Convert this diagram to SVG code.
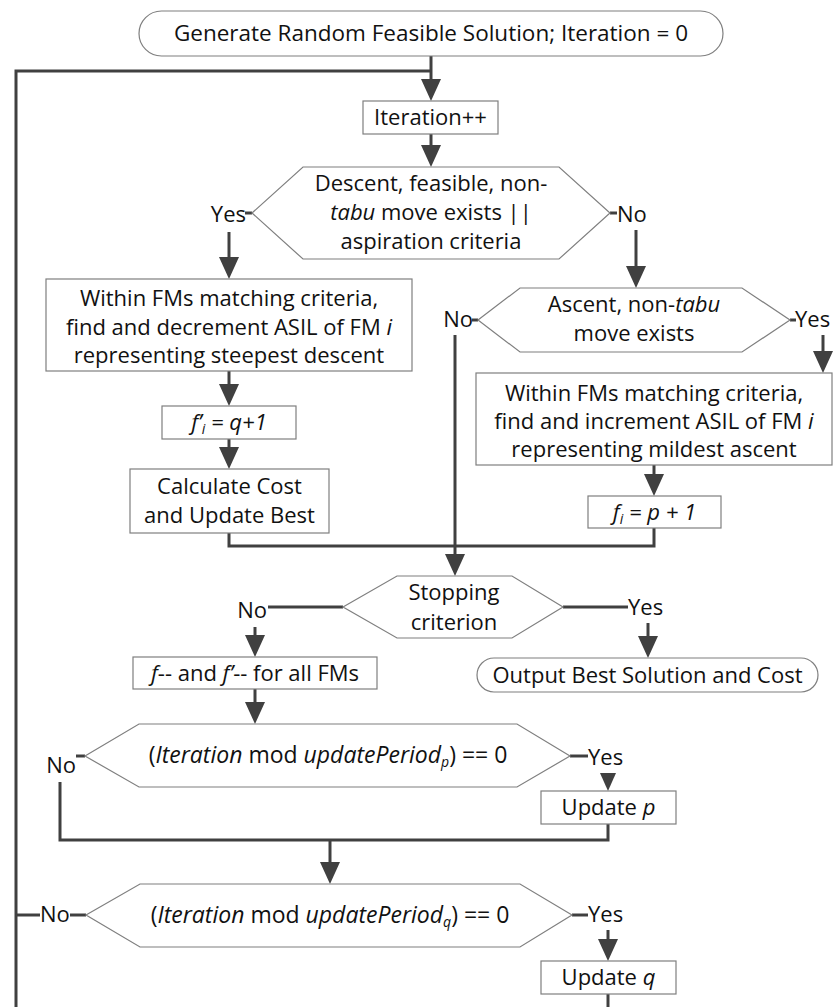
<svg xmlns="http://www.w3.org/2000/svg" width="838" height="1007" viewBox="0 0 838 1007">
  <style>
    text { font-family: "Open Sans", "Liberation Sans", sans-serif; font-size: 22px; fill: #111; text-anchor: middle; }
    text.l { text-anchor: start; }
    text.r { text-anchor: end; }
    text.wide { font-size: 23px; }
    .it { font-style: italic; }
    .shape { fill: #fff; stroke: #7f7f7f; stroke-width: 1.2; }
    .conn { fill: none; stroke: #404040; stroke-width: 3; }
    .arrow { fill: none; stroke: #404040; stroke-width: 3; marker-end: url(#head); }
  </style>
  <defs>
    <!-- arrow tip sits 12px beyond the end of the shaft -->
    <marker id="head" markerUnits="userSpaceOnUse" markerWidth="22" markerHeight="20" refX="10" refY="10" orient="auto">
      <path d="M0,0 L22,10 L0,20 z" fill="#404040"/>
    </marker>
    <!-- small head used without a shaft; tip 10px beyond the anchor -->
    <marker id="headS" markerUnits="userSpaceOnUse" markerWidth="18" markerHeight="16" refX="8" refY="8" orient="auto">
      <path d="M0,0 L18,8 L0,16 z" fill="#404040"/>
    </marker>
  </defs>

  <!-- connectors -->
  <g id="connectors">
    <line class="arrow" x1="431" y1="56" x2="431" y2="89"/>
    <polyline class="conn" points="431,71 16,71 16,1012"/>
    <line class="arrow" x1="431" y1="134" x2="431" y2="155"/>
    <!-- descent branch -->
    <line class="conn" x1="245" y1="213" x2="252" y2="213"/>
    <line class="arrow" x1="229" y1="232" x2="229" y2="267"/>
    <line class="arrow" x1="229" y1="371" x2="229" y2="394"/>
    <line class="arrow" x1="229" y1="439" x2="229" y2="457"/>
    <!-- ascent branch -->
    <line class="conn" x1="610" y1="213" x2="617" y2="213"/>
    <line class="arrow" x1="636" y1="230" x2="636" y2="276"/>
    <line class="conn" x1="472" y1="320" x2="478" y2="320"/>
    <line class="conn" x1="790" y1="320" x2="796" y2="320"/>
    <line class="arrow" x1="823" y1="335" x2="823" y2="361"/>
    <line class="arrow" x1="654" y1="465" x2="654" y2="484"/>
    <!-- merge into stopping test -->
    <polyline class="conn" points="229,533 229,546 654,546 654,528"/>
    <line class="arrow" x1="455" y1="335" x2="455" y2="564"/>
    <!-- stopping outcomes -->
    <line class="conn" x1="268" y1="607" x2="343" y2="607"/>
    <line class="arrow" x1="255" y1="627" x2="255" y2="645"/>
    <line class="conn" x1="563" y1="607" x2="628" y2="607"/>
    <line class="arrow" x1="648" y1="623" x2="648" y2="646"/>
    <line class="arrow" x1="255" y1="689" x2="255" y2="712"/>
    <!-- p update -->
    <line class="conn" x1="76" y1="756" x2="85" y2="756"/>
    <line class="conn" x1="570" y1="756" x2="588" y2="756"/>
    <line style="stroke:none;marker-end:url(#headS)" x1="608" y1="775" x2="608" y2="781"/>
    <polyline class="conn" points="60,782 60,840 608,840 608,824"/>
    <line class="arrow" x1="330" y1="840" x2="330" y2="872"/>
    <!-- q update -->
    <line class="conn" x1="16" y1="915" x2="40" y2="915"/>
    <line class="conn" x1="70" y1="915" x2="86" y2="915"/>
    <line class="conn" x1="572" y1="915" x2="588" y2="915"/>
    <line class="arrow" x1="608" y1="930" x2="608" y2="949"/>
    <line class="conn" x1="608" y1="994" x2="608" y2="1012"/>
  </g>

  <g id="start">
    <rect class="shape" x="139" y="11" width="584" height="45" rx="22.5"/>
    <text x="431" y="41" style="font-size:22.5px">Generate Random Feasible Solution; Iteration = 0</text>
  </g>

  <g id="iter">
    <rect class="shape" x="363" y="101" width="135" height="33"/>
    <text x="430.5" y="125">Iteration++</text>
  </g>

  <g id="descentTest">
    <polygon class="shape" points="252,213 303,167 559,167 610,213 559,259 303,259"/>
    <text x="431" y="191">Descent, feasible, non-</text>
    <text x="431" y="220"><tspan class="it">tabu</tspan> move exists ||</text>
    <text x="431" y="249">aspiration criteria</text>
    <text class="r" x="246" y="222">Yes</text>
    <text class="l" x="617" y="222">No</text>
  </g>

  <g id="decrement">
    <rect class="shape" x="46" y="279" width="366" height="92"/>
    <text x="229" y="306">Within FMs matching criteria,</text>
    <text x="229" y="335">find and decrement ASIL of FM <tspan class="it">i</tspan></text>
    <text x="229" y="363">representing steepest descent</text>
  </g>

  <g id="setTabuQ">
    <rect class="shape" x="162" y="406" width="134" height="33"/>
    <text class="it" x="229" y="430">f’<tspan font-size="14" dy="4">i</tspan><tspan dy="-4"> = q+1</tspan></text>
  </g>

  <g id="calcCost">
    <rect class="shape" x="130" y="469" width="199" height="64"/>
    <text x="229.5" y="494">Calculate Cost</text>
    <text x="229.5" y="523">and Update Best</text>
  </g>

  <g id="ascentTest">
    <polygon class="shape" points="478,320 520,288 742,288 790,320 742,352 520,352"/>
    <text x="634" y="312">Ascent, non-<tspan class="it">tabu</tspan></text>
    <text x="634" y="341">move exists</text>
    <text class="r" x="473" y="327">No</text>
    <text class="l" x="795" y="327">Yes</text>
  </g>

  <g id="increment">
    <rect class="shape" x="476" y="373" width="356" height="92"/>
    <text x="654" y="401">Within FMs matching criteria,</text>
    <text x="654" y="429">find and increment ASIL of FM <tspan class="it">i</tspan></text>
    <text x="654" y="457">representing mildest ascent</text>
  </g>

  <g id="setTabuP">
    <rect class="shape" x="588" y="496" width="133" height="32"/>
    <text class="it" x="654.5" y="520">f<tspan font-size="14" dy="4">i</tspan><tspan dy="-4"> = p + 1</tspan></text>
  </g>

  <g id="stopTest">
    <polygon class="shape" points="343,607 397,576 512,576 563,607 512,638 397,638"/>
    <text x="454" y="600">Stopping</text>
    <text x="454" y="630">criterion</text>
    <text class="r" x="267" y="618">No</text>
    <text class="l" x="628" y="615">Yes</text>
  </g>

  <g id="decay">
    <rect class="shape" x="133" y="657" width="244" height="32"/>
    <text x="255" y="681"><tspan class="it">f</tspan>-- and <tspan class="it">f’</tspan>-- for all FMs</text>
  </g>

  <g id="output">
    <rect class="shape" x="477" y="658" width="341" height="34" rx="17"/>
    <text x="647.5" y="683">Output Best Solution and Cost</text>
  </g>

  <g id="periodPTest">
    <polygon class="shape" points="85,756 139,724 517,724 570,756 517,787 139,787"/>
    <text class="wide" x="328" y="763">(<tspan class="it">Iteration</tspan> mod <tspan class="it">updatePeriod</tspan><tspan class="it" font-size="14" dy="4">p</tspan><tspan dy="-4">) == 0</tspan></text>
    <text class="r" x="76" y="773">No</text>
    <text class="l" x="588" y="765">Yes</text>
  </g>

  <g id="updateP">
    <rect class="shape" x="541" y="791" width="135" height="33"/>
    <text x="608.5" y="815">Update <tspan class="it">p</tspan></text>
  </g>

  <g id="periodQTest">
    <polygon class="shape" points="86,915 140,884 520,884 572,915 520,947 140,947"/>
    <text class="wide" x="330" y="923">(<tspan class="it">Iteration</tspan> mod <tspan class="it">updatePeriod</tspan><tspan class="it" font-size="14" dy="4">q</tspan><tspan dy="-4">) == 0</tspan></text>
    <text class="l" x="40" y="922">No</text>
    <text class="l" x="588" y="922">Yes</text>
  </g>

  <g id="updateQ">
    <rect class="shape" x="541" y="961" width="135" height="33"/>
    <text x="608.5" y="985">Update <tspan class="it">q</tspan></text>
  </g>
</svg>
